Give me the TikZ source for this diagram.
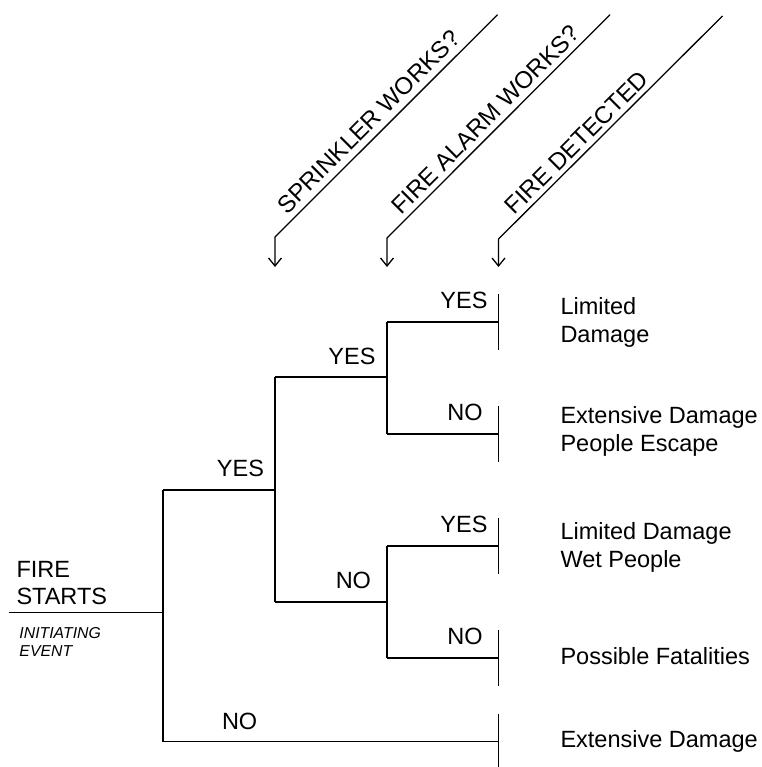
\documentclass[tikz,border=0pt]{standalone}
\usepackage{fontspec}
\setmainfont{Liberation Sans}
\usetikzlibrary{arrows.meta,calc}
\begin{document}
\begin{tikzpicture}[x=1pt,y=-1pt,line width=1.3pt,
  txt/.style={font=\fontsize{23.5}{28}\selectfont,inner sep=0pt,outer sep=0pt},
  outc/.style={txt,align=left,anchor=west},
  yn/.style={txt,anchor=base east},
  hdr/.style={txt,font=\fontsize{24}{28}\selectfont,anchor=base west,rotate=45},
  arr/.style={-{Straight Barb[length=8pt,width=13pt,line width=1.3pt]}}]
\useasboundingbox (0,0) rectangle (761,767);

% branch points
\coordinate (s0) at (9,612.7);
\coordinate (a)  at (163,612.7);
\coordinate (aY) at (163,490);
\coordinate (aN) at (163,741.5);
\coordinate (bY) at (275,377);
\coordinate (bN) at (275,602);
\coordinate (b)  at (275,490);
\coordinate (cY) at (387,322);
\coordinate (cN) at (387,434);
\coordinate (c)  at (387,377);
\coordinate (dY) at (387,546);
\coordinate (dN) at (387,658);
\coordinate (d)  at (387,602);
\coordinate (t1) at (498.5,322);
\coordinate (t2) at (498.5,434);
\coordinate (t3) at (498.5,546);
\coordinate (t4) at (498.5,658);
\coordinate (t5) at (498.5,741.5);

% tree
\draw (s0) -- (a);
\draw (aY) -- (aN);
\draw (aY) -- (b);
\draw (bY) -- (bN);
\draw (bY) -- (c);
\draw (cY) -- (cN);
\draw (cY) -- (t1);
\draw (cN) -- (t2);
\draw (bN) -- (d);
\draw (dY) -- (dN);
\draw (dY) -- (t3);
\draw (dN) -- (t4);
\draw (aN) -- (t5);

% terminal bars
\foreach \t in {t1,t2,t3,t4}{
  \draw ($(\t)+(0,-28)$) -- ($(\t)+(0,28)$);
}
\draw ($(t5)+(0,-28)$) -- ($(t5)+(0,27)$);

% headers
\coordinate (h1c) at (275,237);
\coordinate (h1t) at (497.5,14.7);
\coordinate (h1a) at (275,267);
\coordinate (h2c) at (387,238);
\coordinate (h2t) at (610,14.7);
\coordinate (h2a) at (387,267);
\coordinate (h3c) at (498.5,239);
\coordinate (h3t) at (722.5,16);
\coordinate (h3a) at (498.5,267);
\draw[arr] (h1t) -- (h1c) -- (h1a);
\draw[arr] (h2t) -- (h2c) -- (h2a);
\draw[arr] (h3t) -- (h3c) -- (h3a);
\node[hdr] (hs) at ($(h1c)+(12.0,-22.0)$) {SPRINKLER WORKS?};
\node[hdr] (ha) at ($(h2c)+(14.1,-22.6)$) {FIRE ALARM WORKS?};
\node[hdr] (hd) at ($(h3c)+(16.3,-23.3)$) {FIRE DETECTED};

% initiating event
\node[txt,align=left,anchor=west,font=\fontsize{23.5}{26.7}\selectfont] (fs) at (16.5,583.3) {FIRE\\STARTS};
\node[txt,align=left,anchor=west,font=\fontsize{15.8}{18.4}\selectfont\itshape] (ie) at (19.5,641.9) {INITIATING\\EVENT};

% branch labels
\node[yn] (l1) at (264,476) {YES};
\node[yn] (l2) at (375.5,364) {YES};
\node[yn] (l3) at (487.5,308.3) {YES};
\node[yn] (l4) at (482.7,420) {NO};
\node[yn] (l5) at (371,588) {NO};
\node[yn] (l6) at (487.5,532.7) {YES};
\node[yn] (l7) at (482.7,644) {NO};
\node[txt,anchor=base west] (l8) at (222,729) {NO};

% outcomes
\node[outc] (o1) at (560.5,322.9) {Limited\\Damage};
\node[outc] (o2) at (560.5,431.2) {Extensive Damage\\People Escape};
\node[outc] (o3) at (560.5,547.9) {Limited Damage\\Wet People};
\node[outc] (o4) at (560.5,656.4) {Possible Fatalities};
\node[outc] (o5) at (560.5,741.8) {Extensive Damage};
\end{tikzpicture}
\end{document}
